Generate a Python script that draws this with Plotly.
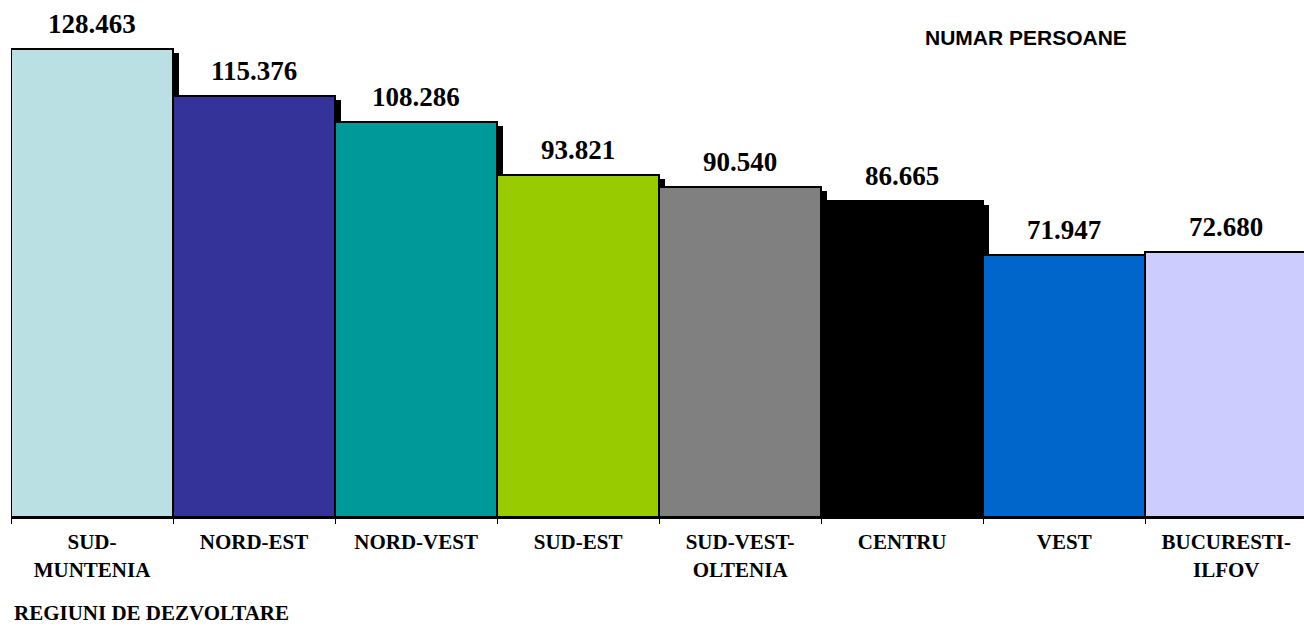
import plotly.graph_objects as go

categories = ["SUD-<br>MUNTENIA", "NORD-EST", "NORD-VEST", "SUD-EST",
              "SUD-VEST-<br>OLTENIA", "CENTRU", "VEST", "BUCURESTI-<br>ILFOV"]
values = [128.463, 115.376, 108.286, 93.821, 90.540, 86.665, 71.947, 72.680]
value_labels = ["128.463", "115.376", "108.286", "93.821", "90.540", "86.665", "71.947", "72.680"]
colors = ["#BBE0E3", "#333399", "#009999", "#99CC00", "#808080", "#000000", "#0066CC", "#CCCCFF"]

W, H = 1304, 627
ML, MR, MT, MB = 11, 0, 5, 110
plot_w = W - ML - MR
plot_h = H - MT - MB
x_range = [-0.5, 7.48]
y_range = [0, 140.4]
px_per_x = plot_w / (x_range[1] - x_range[0])
px_per_y = plot_h / (y_range[1] - y_range[0])

# shadow offset in pixels -> data units
shadow_dx = 6 / px_per_x
shadow_dy = 4 / px_per_y

serif = "Liberation Serif"
sans = "Liberation Sans"

fig = go.Figure()
fig.add_trace(go.Bar(
    x=categories, y=[v - shadow_dy for v in values],
    width=1, offset=-0.5 + shadow_dx,
    marker=dict(color="#000000", line=dict(width=0)),
    hoverinfo="skip", showlegend=False,
))
fig.add_trace(go.Bar(
    x=categories, y=values, width=1,
    marker=dict(color=colors, line=dict(color="#000000", width=2)),
    showlegend=False,
))

for c, v, t in zip(categories, values, value_labels):
    fig.add_annotation(x=c, y=v, text="<b>%s</b>" % t, showarrow=False,
                       yanchor="bottom", yshift=8,
                       font=dict(family=serif, size=27, color="#000000"))

fig.add_annotation(xref="paper", yref="paper", x=(1025.5 - ML) / plot_w, y=(H - MB - 37) / plot_h,
                   text="<b>NUMAR PERSOANE</b>", showarrow=False,
                   xanchor="center", yanchor="middle",
                   font=dict(family=sans, size=21, color="#000000"))
fig.add_annotation(xref="paper", yref="paper", x=(13 - ML) / plot_w, y=(H - MB - 626) / plot_h,
                   text="<b>REGIUNI DE DEZVOLTARE</b>", showarrow=False,
                   xanchor="left", yanchor="bottom", borderpad=0,
                   font=dict(family=serif, size=21, color="#000000"))

fig.update_layout(
    width=W, height=H,
    margin=dict(l=ML, r=MR, t=MT, b=MB, autoexpand=False),
    paper_bgcolor="#FFFFFF", plot_bgcolor="#FFFFFF",
    barmode="overlay", bargap=0,
    showlegend=False,
)
fig.update_xaxes(
    type="category", range=x_range, tickson="boundaries",
    ticks="outside", ticklen=5, tickwidth=1, tickcolor="#000000",
    showline=True, linecolor="#000000", linewidth=2,
    showgrid=False, zeroline=False,
    tickfont=dict(family=serif, size=21, color="#000000"),
    tickprefix="<b>", ticksuffix="</b>",
    ticklabelstandoff=5,
)
fig.update_yaxes(range=y_range, visible=False, showgrid=False, zeroline=False)

fig.write_html("out.html", config={"displayModeBar": False},
               post_script="document.body.style.margin='0px';document.body.style.overflow='hidden';")
